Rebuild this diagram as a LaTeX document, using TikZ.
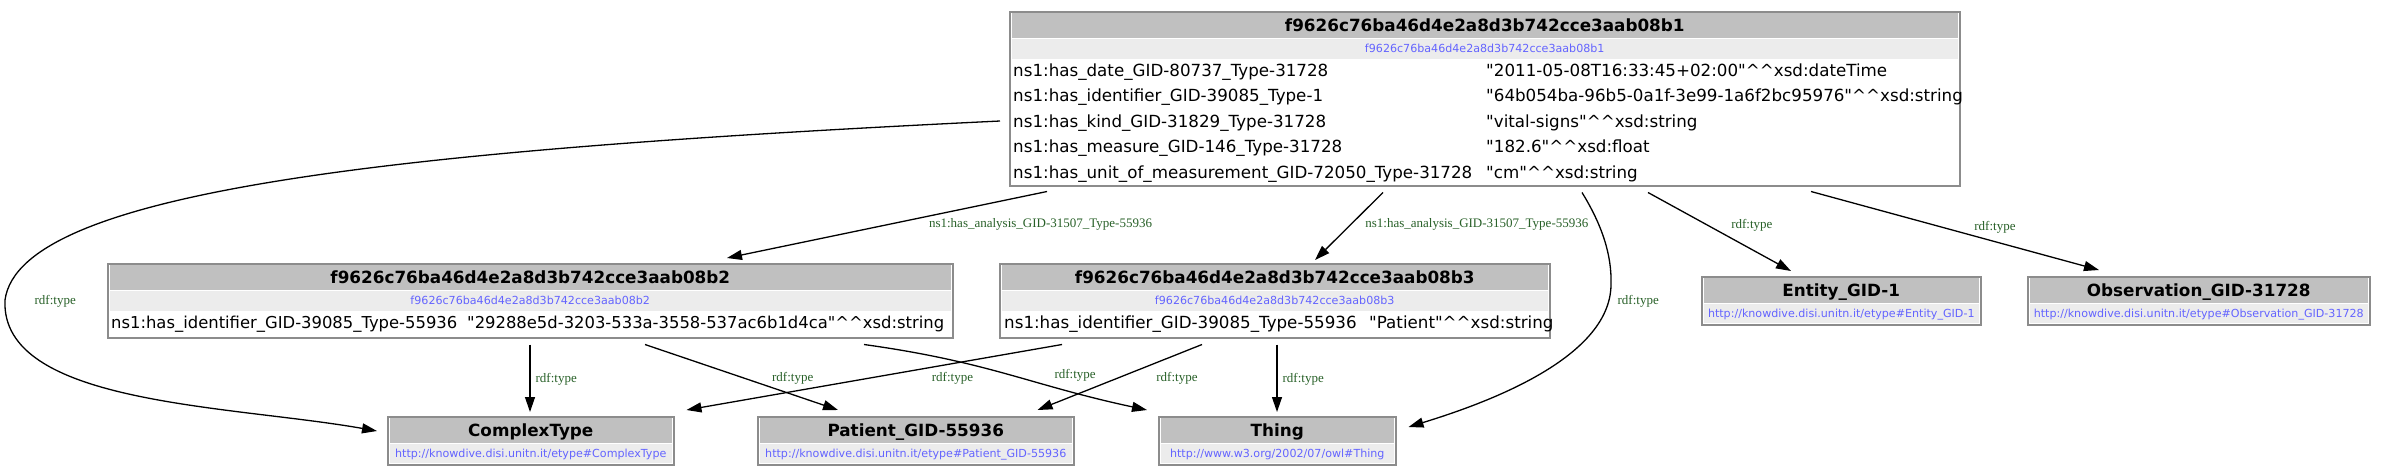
\documentclass[tikz,border=0pt]{standalone}
\usepackage{fontspec}
\usetikzlibrary{arrows.meta,positioning,calc}
\newfontfamily\boxfont{DejaVu Sans}
\newfontfamily\lblserif{Liberation Serif}
\definecolor{headgray}{RGB}{192,192,192}
\definecolor{idgray}{RGB}{236,236,236}
\definecolor{framegray}{RGB}{140,140,140}
\definecolor{uriblue}{RGB}{100,100,255}
\definecolor{lblgreen}{RGB}{40,96,40}
\newcommand\lit[2]{"#1"\textasciicircum\textasciicircum xsd:#2}
\tikzset{
  box/.style={draw=framegray, line width=1.5pt, inner sep=0pt, anchor=north west},
  title/.style={fill=headgray, inner sep=0pt, anchor=north, minimum height=25pt,
    text height=12.2pt, text depth=0pt, font=\boxfont\bfseries\fontsize{16.8}{18}\selectfont},
  idrow/.style={fill=idgray, inner sep=0pt, anchor=north, minimum height=20pt,
    text height=8.1pt, text depth=0pt, text=uriblue, font=\boxfont\fontsize{11.1}{12}\selectfont},
  prop/.style={inner sep=0pt, anchor=west, text height=12.2pt, text depth=0pt,
    font=\boxfont\fontsize{16.7}{18}\selectfont},
  link/.style={-{Triangle[length=15pt,width=10pt]}, line width=1.3pt},
  lbl/.style={inner sep=0pt, text=lblgreen, text height=8.6pt, text depth=0pt,
    font=\lblserif\fontsize{13}{14}\selectfont},
}
\begin{document}
\begin{tikzpicture}[x=1pt, y=-1pt]
  \useasboundingbox (0,0) rectangle (2388,475);

  % Beobachtung (oben)
  \node[box, minimum width=950pt, minimum height=174pt] (b1) at (1009,11) {};
  \node[title, minimum width=946pt] (b1-t) at ($(b1.north)+(0,2)$) {f9626c76ba46d4e2a8d3b742cce3aab08b1};
  \node[idrow, minimum width=946pt] (b1-id) at (b1-t.south) {f9626c76ba46d4e2a8d3b742cce3aab08b1};
  \foreach \k/\v [count=\i from 0] in {
      ns1:has\_date\_GID-80737\_Type-31728/\lit{2011-05-08T16:33:45+02:00}{dateTime},
      ns1:has\_identifier\_GID-39085\_Type-1/\lit{64b054ba-96b5-0a1f-3e99-1a6f2bc95976}{string},
      ns1:has\_kind\_GID-31829\_Type-31728/\lit{vital-signs}{string},
      ns1:has\_measure\_GID-146\_Type-31728/\lit{182.6}{float},
      ns1:has\_unit\_of\_measurement\_GID-72050\_Type-31728/\lit{cm}{string}} {
    \node[prop] (b1-k\i) at ($(b1.north west)+(4,59+25.5*\i)$) {\k};
    \node[prop] (b1-v\i) at ($(b1.north west)+(477,59+25.5*\i)$) {\v};
  }

  % Analysen (Mitte)
  \node[box, minimum width=845pt, minimum height=74pt] (b2) at (107,263) {};
  \node[title, minimum width=841pt] (b2-t) at ($(b2.north)+(0,2)$) {f9626c76ba46d4e2a8d3b742cce3aab08b2};
  \node[idrow, minimum width=841pt] (b2-id) at (b2-t.south) {f9626c76ba46d4e2a8d3b742cce3aab08b2};
  \node[prop, font=\boxfont\fontsize{16.4}{18}\selectfont] (b2-k) at ($(b2.north west)+(4,59)$) {ns1:has\_identifier\_GID-39085\_Type-55936};
  \node[prop, font=\boxfont\fontsize{16.4}{18}\selectfont] (b2-v) at ($(b2.north west)+(360,59)$) {\lit{29288e5d-3203-533a-3558-537ac6b1d4ca}{string}};

  \node[box, minimum width=550pt, minimum height=74pt] (b3) at (999,263) {};
  \node[title, minimum width=546pt] (b3-t) at ($(b3.north)+(0,2)$) {f9626c76ba46d4e2a8d3b742cce3aab08b3};
  \node[idrow, minimum width=546pt] (b3-id) at (b3-t.south) {f9626c76ba46d4e2a8d3b742cce3aab08b3};
  \node[prop] (b3-k) at ($(b3.north west)+(5,59)$) {ns1:has\_identifier\_GID-39085\_Type-55936};
  \node[prop] (b3-v) at ($(b3.north west)+(370,59)$) {\lit{Patient}{string}};

  % Typen
  \node[box, minimum width=279pt, minimum height=48pt] (ent) at (1701,276) {};
  \node[title, minimum width=275pt] (ent-t) at ($(ent.north)+(0,2)$) {Entity\_GID-1};
  \node[idrow, minimum width=275pt, minimum height=19pt] (ent-id) at (ent-t.south) {http://knowdive.disi.unitn.it/etype\#Entity\_GID-1};

  \node[box, minimum width=342pt, minimum height=48pt] (obs) at (2027,276) {};
  \node[title, minimum width=338pt] (obs-t) at ($(obs.north)+(0,2)$) {Observation\_GID-31728};
  \node[idrow, minimum width=338pt, minimum height=19pt] (obs-id) at (obs-t.south) {http://knowdive.disi.unitn.it/etype\#Observation\_GID-31728};

  \node[box, minimum width=286pt, minimum height=48pt] (ct) at (387,416) {};
  \node[title, minimum width=282pt] (ct-t) at ($(ct.north)+(0,2)$) {ComplexType};
  \node[idrow, minimum width=282pt, minimum height=19pt] (ct-id) at (ct-t.south) {http://knowdive.disi.unitn.it/etype\#ComplexType};

  \node[box, minimum width=316pt, minimum height=48pt] (pat) at (757,416) {};
  \node[title, minimum width=312pt] (pat-t) at ($(pat.north)+(0,2)$) {Patient\_GID-55936};
  \node[idrow, minimum width=312pt, minimum height=19pt] (pat-id) at (pat-t.south) {http://knowdive.disi.unitn.it/etype\#Patient\_GID-55936};

  \node[box, minimum width=237pt, minimum height=48pt] (thing) at (1158,416) {};
  \node[title, minimum width=233pt] (thing-t) at ($(thing.north)+(0,2)$) {Thing};
  \node[idrow, minimum width=233pt, minimum height=19pt] (thing-id) at (thing-t.south) {http://www.w3.org/2002/07/owl\#Thing};

  % Kanten von oben
  \draw[link] ($(b1.south west)+(38,5)$) -- ($(b2.north west)+(620,-5)$)
    node[lbl, pos=.48, right=35pt] {ns1:has\_analysis\_GID-31507\_Type-55936};
  \draw[link] ($(b1.south west)+(374,6)$) -- ($(b3.north west)+(316,-3)$)
    node[lbl, pos=.46, right=13pt] {ns1:has\_analysis\_GID-31507\_Type-55936};
  \draw[link] ($(b1.south west)+(639,6)$) -- ($(ent.north west)+(90,-5)$)
    node[lbl, pos=.41, right=24pt] {rdf:type};
  \draw[link] ($(b1.south west)+(802,5)$) -- ($(obs.north west)+(72,-6)$)
    node[lbl, pos=.44, right=36pt] {rdf:type};
  \draw[link] ($(b1.north west)+(-9,110)$) .. controls (400,150) and (20,190) .. (5,300)
    node[lbl, right=29pt] {rdf:type}
    .. controls (0,405) and (230,405) .. ($(ct.north west)+(-10,15)$);
  \draw[link] ($(b1.south west)+(573,6)$) .. controls (1602,225) and (1612,255) .. (1611,285)
    .. controls (1610,360) and (1480,405) .. ($(thing.north east)+(12,11)$)
    node[lbl, pos=.07, right=8pt] {rdf:type};

  % Kanten von der Mitte
  \draw[link] ($(b2.south west)+(423,6)$) -- ($(ct.north west)+(143,-4)$)
    node[lbl, pos=.5, right=5pt] {rdf:type};
  \draw[link] ($(b2.south west)+(538,6)$) -- ($(pat.north west)+(81,-6)$)
    node[lbl, pos=.5, right=30pt] {rdf:type};
  \draw[link] ($(b2.south west)+(757,6)$) .. controls (990,362) and (1030,385) .. ($(thing.north west)+(-11,-6)$)
    node[lbl, pos=.5, right=45pt] {rdf:type};
  \draw[link] ($(b3.south west)+(63,6)$) -- ($(ct.north east)+(12,-6)$)
    node[lbl, pos=.5, right=57pt] {rdf:type};
  \draw[link] ($(b3.south west)+(203,6)$) -- ($(pat.north east)+(-37,-6)$)
    node[lbl, pos=.5, right=36pt] {rdf:type};
  \draw[link] ($(b3.south west)+(278,6)$) -- ($(thing.north west)+(119,-4)$)
    node[lbl, pos=.5, right=5pt] {rdf:type};
\end{tikzpicture}
\end{document}
